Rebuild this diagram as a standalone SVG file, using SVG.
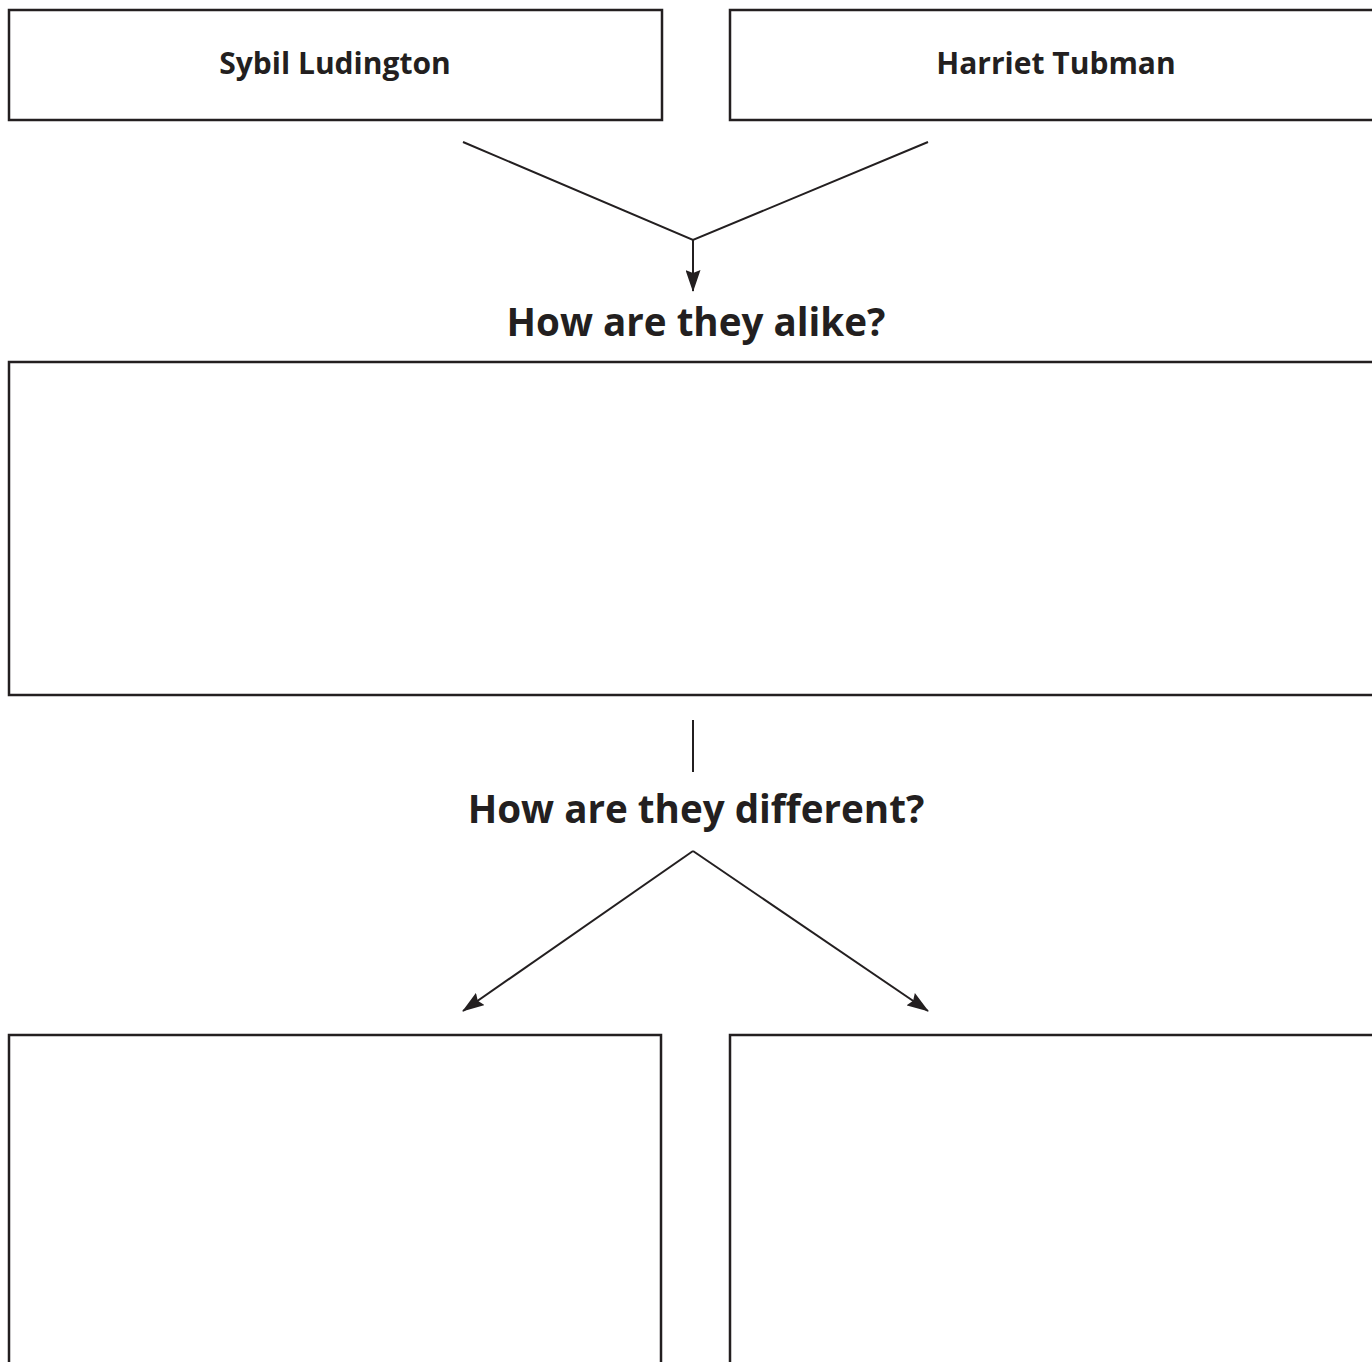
<svg xmlns="http://www.w3.org/2000/svg" width="1372" height="1362" viewBox="0 0 1372 1362">
<style>
.box{fill:#fff;stroke:#231f20;stroke-width:2.5}
.ln{fill:none;stroke:#231f20;stroke-width:2}
.lbl{font-family:"Open Sans","Liberation Sans",sans-serif;font-weight:bold;fill:#231f20;text-anchor:middle}
.name{font-size:30px}
.q{font-size:38.6px}
</style>
<defs>
<marker id="ah" viewBox="0 0 22 15" refX="21" refY="7.5" markerWidth="22" markerHeight="15" markerUnits="userSpaceOnUse" orient="auto">
<path d="M0,0 L22,7.5 L0,15 L3,7.5 Z" fill="#231f20"/>
</marker>
</defs>
<rect width="1372" height="1362" fill="#fff"/>
<g id="sybil"><rect class="box" x="9" y="10" width="653" height="110"/><text class="lbl name" x="335" y="74">Sybil Ludington</text></g>
<g id="harriet"><rect class="box" x="730" y="10" width="660" height="110"/><text class="lbl name" x="1056" y="74">Harriet Tubman</text></g>
<g id="alike-label"><text class="lbl q" x="696" y="336">How are they alike?</text></g>
<g id="alike-box"><rect class="box" x="9" y="362" width="1380" height="333"/></g>
<g id="different-label"><text class="lbl q" x="696" y="823">How are they different?</text></g>
<g id="left-box"><rect class="box" x="9" y="1035" width="652" height="360"/></g>
<g id="right-box"><rect class="box" x="730" y="1035" width="660" height="360"/></g>
<g id="connectors">
<path class="ln" d="M463,142 L693,240 L928,142"/>
<path class="ln" d="M693,240 L693,291" marker-end="url(#ah)"/>
<path class="ln" d="M693,720 L693,772"/>
<path class="ln" d="M693,851 L463,1011" marker-end="url(#ah)"/>
<path class="ln" d="M693,851 L928,1011" marker-end="url(#ah)"/>
</g>
</svg>
